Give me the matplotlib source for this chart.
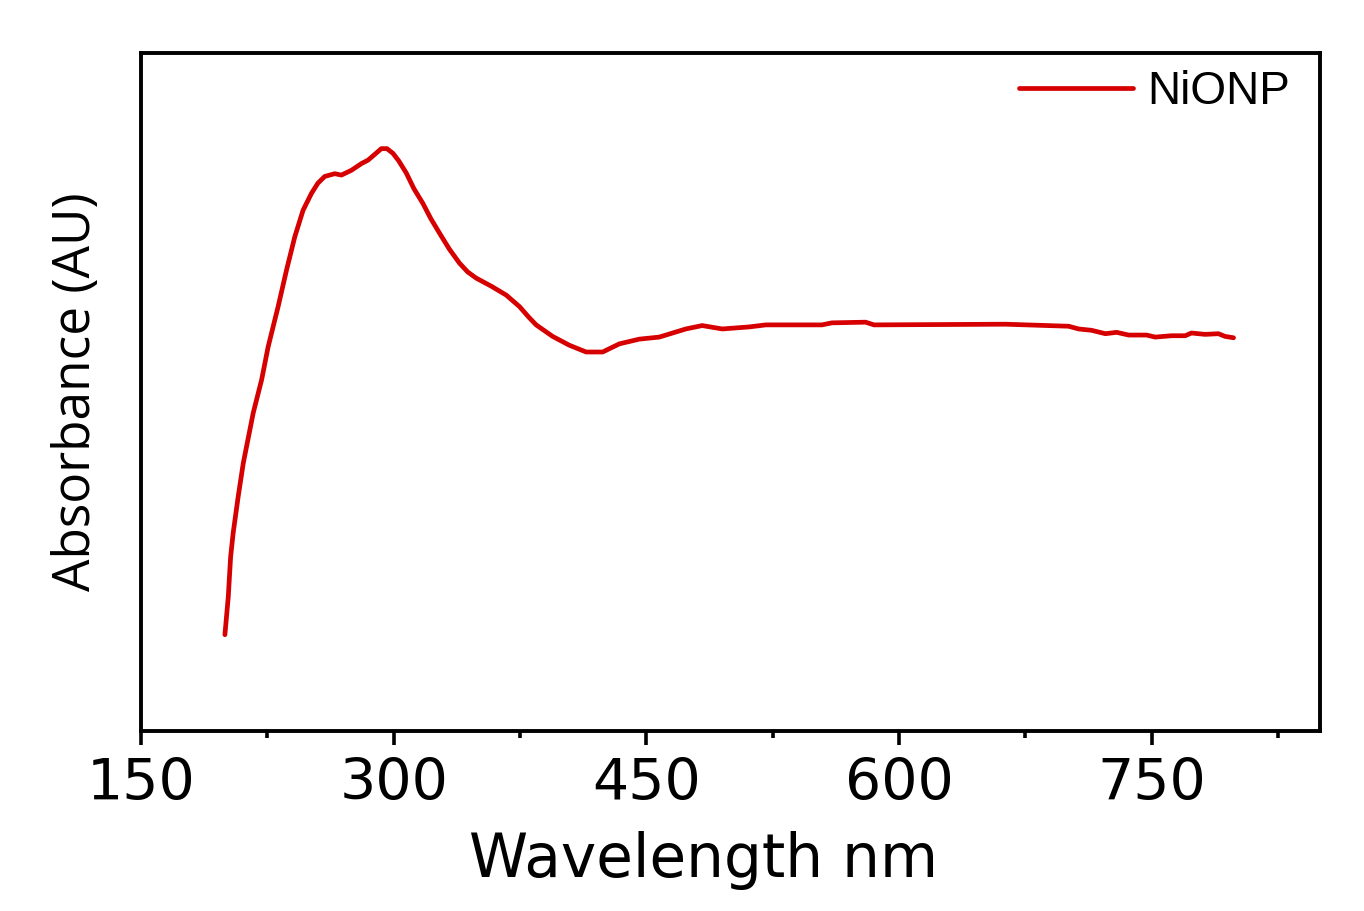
import matplotlib
matplotlib.use("Agg")
import matplotlib.pyplot as plt
from matplotlib.ticker import MultipleLocator

# UV-vis spectrum of NiO nanoparticles
wavelength = [199.8, 201.8, 203.2, 204.7, 207.7, 210.7, 216.6, 221.6, 225.5, 231.4,
              236.4, 241.3, 246.2, 251.2, 255.0, 259.1, 265.0, 269.0, 274.9, 280.9,
              284.8, 289.0, 292.7, 296.0, 299.6, 303.0, 307.5, 312.0, 317.4, 322.0,
              327.3, 333.0, 339.1, 344.0, 349.0, 358.0, 366.8, 374.7, 380.0, 384.6,
              394.4, 404.3, 414.3, 424.1, 434.0, 445.9, 457.7, 473.5, 483.2, 495.1,
              511.1, 521.0, 554.3, 560.3, 580.2, 585.2, 663.2, 700.8, 706.7, 714.4,
              722.6, 729.3, 736.4, 747.0, 752.2, 761.8, 770.0, 773.7, 781.8, 789.7,
              793.7, 798.7]
absorbance = [0.142, 0.198, 0.257, 0.292, 0.346, 0.395, 0.469, 0.518, 0.567, 0.626,
              0.680, 0.729, 0.768, 0.793, 0.808, 0.818, 0.822, 0.820, 0.827, 0.837,
              0.842, 0.851, 0.859, 0.859, 0.852, 0.841, 0.823, 0.800, 0.778, 0.756,
              0.734, 0.711, 0.690, 0.677, 0.668, 0.656, 0.643, 0.626, 0.611, 0.599,
              0.582, 0.569, 0.559, 0.559, 0.571, 0.578, 0.581, 0.593, 0.598, 0.593,
              0.596, 0.599, 0.599, 0.602, 0.603, 0.599, 0.600, 0.597, 0.593, 0.591,
              0.586, 0.588, 0.584, 0.584, 0.581, 0.583, 0.583, 0.587, 0.585, 0.586,
              0.582, 0.580]
series_name = "NiONP"
xticks = [150, 300, 450, 600, 750]

fig = plt.figure(figsize=(13.64, 9.11), dpi=100)
ax = fig.add_axes([0.1034, 0.1976, 0.8643, 0.7442])

ax.plot(wavelength, absorbance, color="#d60000", lw=3.4, label=series_name,
        solid_joinstyle="round", solid_capstyle="round")

ax.set_xlim(150, 850)
ax.set_ylim(0, 1)
ax.set_xticks(xticks)
ax.xaxis.set_minor_locator(MultipleLocator(75))
ax.set_yticks([])

for sp in ax.spines.values():
    sp.set_linewidth(2.8)
ax.tick_params(axis="x", which="major", direction="out", length=10, width=2.6,
               pad=9, labelsize=41)
ax.tick_params(axis="x", which="minor", direction="out", length=5, width=2.6)
for lab in ax.get_xticklabels():
    lab.set_fontfamily("DejaVu Sans")

ax.set_xlabel("Wavelength nm", fontsize=43, family="DejaVu Sans")
ax.xaxis.set_label_coords(0.477, -0.148)
ax.set_ylabel("Absorbance (AU)", fontsize=37, family="Open Sans", labelpad=28)

leg = ax.legend(loc="upper right", bbox_to_anchor=(0.992, 1.006), frameon=False,
                handlelength=2.5, handletextpad=0.3, borderaxespad=0.05,
                prop={"family": "Liberation Sans", "size": 33})

fig.savefig("out.png", dpi=100, facecolor="white")
